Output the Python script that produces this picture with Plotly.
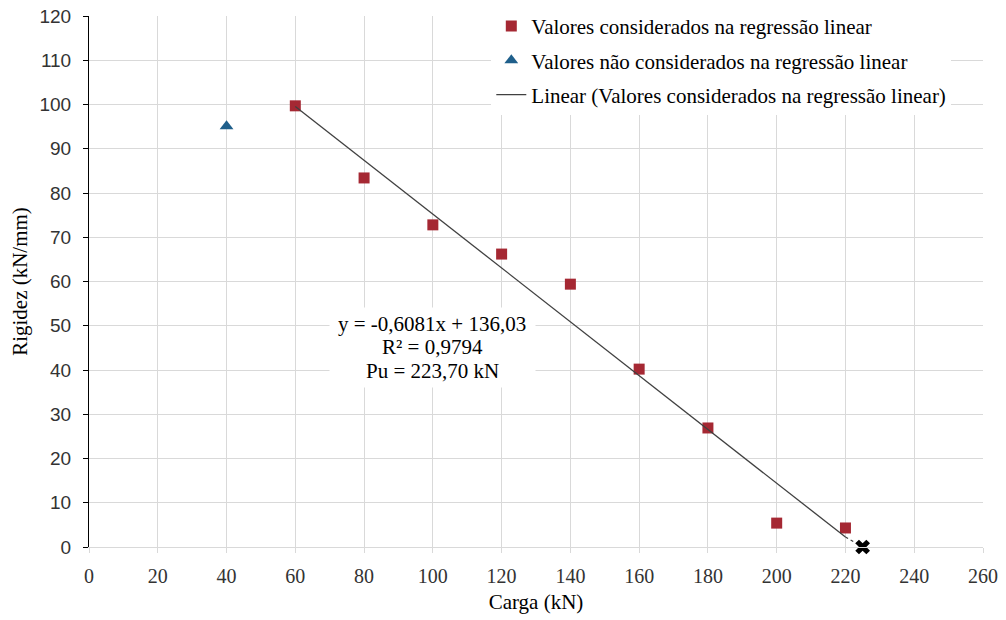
import plotly.graph_objects as go

# Data
carga_reg = [60, 80, 100, 120, 140, 160, 180, 200, 220]
rigidez_reg = [99.7, 83.4, 72.8, 66.2, 59.4, 40.2, 26.9, 5.4, 4.3]
carga_nao = [40]
rigidez_nao = [95.1]
slope = -0.6081
intercept = 136.03
fit_x = [60, 220]
ext_x = [220, 225]
pu_x = [225]
pu_y = [0]
eq_lines = ["y = -0,6081x + 136,03", "R² = 0,9794", "Pu = 223,70 kN"]

fit_y = [slope * v + intercept for v in fit_x]
ext_y = [slope * ext_x[0] + intercept, pu_y[0]]

serif = "Liberation Serif, Times New Roman, serif"
sans = "Liberation Sans, Arial, sans-serif"

fig = go.Figure()
fig.add_trace(go.Scatter(
    x=carga_reg, y=rigidez_reg, mode="markers",
    name="Valores considerados na regressão linear",
    marker=dict(symbol="square", size=11, color="#A52833"),
    legendgroup="a"))
fig.add_trace(go.Scatter(
    x=carga_nao, y=rigidez_nao, mode="markers",
    name="Valores não considerados na regressão linear",
    marker=dict(symbol="triangle-up", size=12, color="#1F5F8B"),
    legendgroup="b"))
fig.add_trace(go.Scatter(
    x=fit_x, y=fit_y, mode="lines",
    name="Linear (Valores considerados na regressão linear)",
    line=dict(color="#404040", width=1.3),
    legendgroup="c"))
fig.add_trace(go.Scatter(
    x=ext_x, y=ext_y, mode="lines", showlegend=False,
    line=dict(color="#404040", width=1.3, dash="dot"),
    cliponaxis=False))
fig.add_trace(go.Scatter(
    x=pu_x, y=pu_y, mode="markers", showlegend=False,
    marker=dict(symbol="x", size=13, color="black",
                line=dict(width=0)),
    cliponaxis=False))

# white box behind the equation text
fig.add_annotation(
    x=99.8, y=45.1, xref="x", yref="y", text=" ",
    showarrow=False, width=205, height=79, bgcolor="white", borderpad=0)
for i, line in enumerate(eq_lines):
    fig.add_annotation(
        x=99.8, y=45.1, xref="x", yref="y", text=line,
        showarrow=False, yshift=(1 - i) * 23.5,
        font=dict(family=serif, size=21, color="black"))

fig.update_layout(
    width=1006, height=620,
    margin=dict(l=89, r=23, t=16, b=73, autoexpand=False),
    paper_bgcolor="white", plot_bgcolor="white",
    showlegend=True,
    legend=dict(x=0.45, y=1.019, xanchor="left", yanchor="top",
                bgcolor="white", font=dict(family=serif, size=21, color="black"),
                tracegroupgap=4, itemwidth=30),
    xaxis=dict(range=[0, 260], dtick=20, tick0=0,
               showgrid=True, gridcolor="#d9d9d9", gridwidth=1,
               showline=True, linecolor="#d9d9d9", linewidth=1,
               ticks="outside", ticklen=5, tickcolor="#d9d9d9",
               zeroline=False, ticklabelstandoff=6,
               tickfont=dict(family=serif, size=20, color="#333333"),
               title=dict(text="Carga (kN)", font=dict(family=serif, size=21, color="black"), standoff=8)),
    yaxis=dict(range=[0, 120], dtick=10, tick0=0,
               showgrid=True, gridcolor="#d9d9d9", gridwidth=1,
               showline=True, linecolor="black", linewidth=1,
               ticks="outside", ticklen=5, tickcolor="black",
               zeroline=False, ticklabelstandoff=8,
               tickfont=dict(family=sans, size=19, color="#333333"),
               title=dict(text="Rigidez (kN/mm)", font=dict(family=serif, size=21, color="black"), standoff=6)),
)

fig.write_html("out.html")
